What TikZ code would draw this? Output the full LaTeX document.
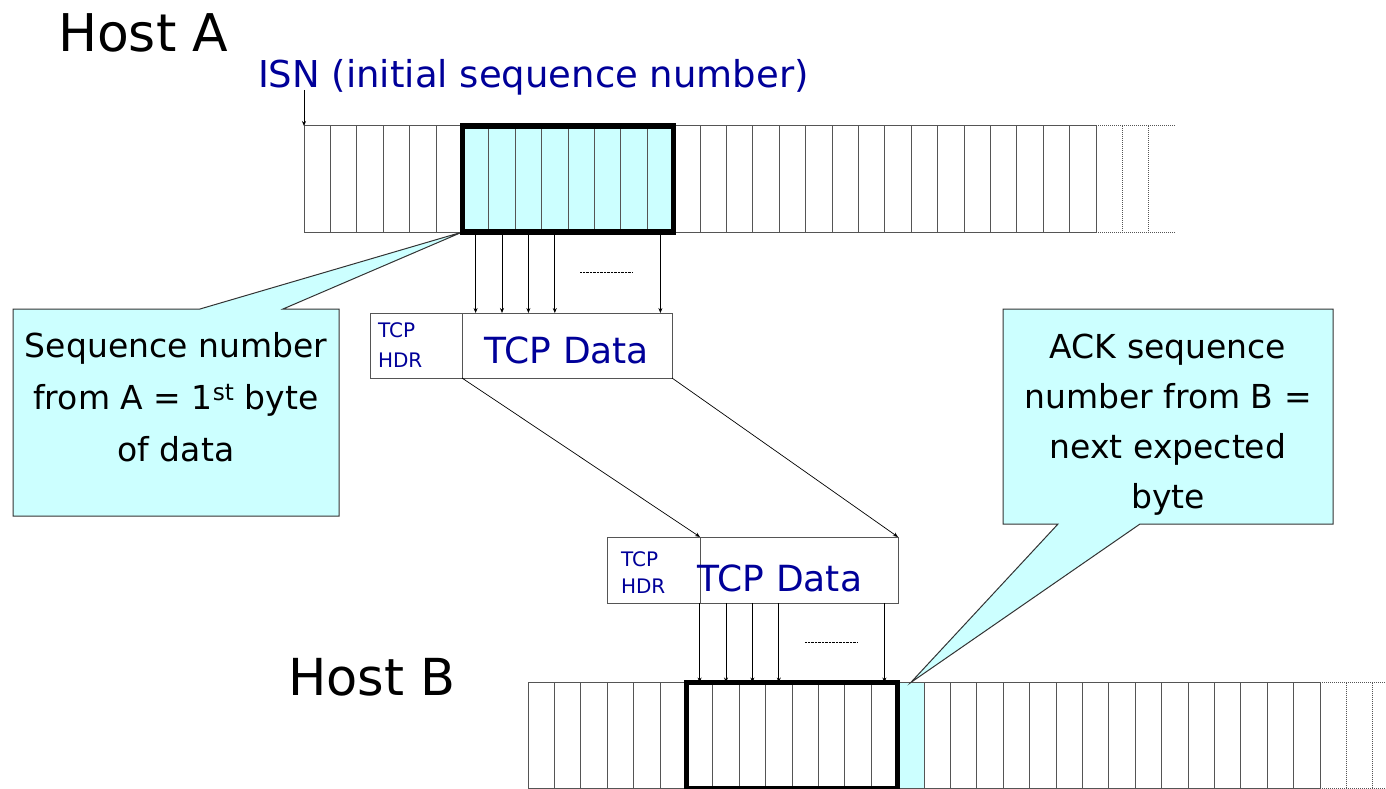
\documentclass[tikz,border=0pt]{standalone}
\usepackage{fontspec}
\setmainfont{DejaVu Sans}
\usetikzlibrary{arrows.meta}
\definecolor{seqblue}{RGB}{0,0,153}
\definecolor{seqcyan}{RGB}{204,255,255}
\definecolor{cellgray}{RGB}{85,85,85}
\begin{document}
\begin{tikzpicture}[x=1pt,y=-1pt,
  every node/.style={inner sep=0pt, outer sep=0pt},
  cell/.style={draw=cellgray, line width=1pt, minimum width=26.4pt, minimum height=106pt},
  pkt/.style={draw=cellgray, line width=1pt, fill=white},
  copy/.style={-{Stealth[length=5pt,width=4pt]}, line width=0.7pt},
  note/.style={fill=seqcyan, draw=black!80, line width=1pt},
  tail/.style={draw=cellgray, line width=1pt, densely dotted}]
\useasboundingbox (0,0) rectangle (1386,789);
% host names
\node[anchor=base west, font=\fontsize{52}{60}\selectfont] (hostA) at (58,52) {Host A};
\node[anchor=base west, font=\fontsize{51}{60}\selectfont] (hostB) at (288,695) {Host B};
\node[anchor=base west, text=seqblue, font=\fontsize{37}{44}\selectfont] (isn) at (258,88) {ISN (initial sequence number)};
\coordinate (isnfoot) at (304,90);
% byte stream of host A
\foreach \i in {0,...,5,14,15,...,29}
  \node[cell] (a\i) at ({317.2+26.4*\i},179) {};
\foreach \i in {6,...,13}
  \node[cell, fill=seqcyan] (a\i) at ({317.2+26.4*\i},179) {};
\draw[tail] (a29.north east) -- ++(79.2,0) (a29.south east) -- ++(79.2,0);
\foreach \k in {1,2}
  \draw[tail] ([xshift=\k*26.4]a29.north east) -- ([xshift=\k*26.4]a29.south east);
\draw[copy] (isnfoot) -- (a0.north west);
% byte stream of host B
\foreach \i in {0,...,13,15,16,...,29}
  \node[cell] (b\i) at ({541.2+26.4*\i},735.5) {};
\node[cell, fill=seqcyan] (b14) at ({541.2+26.4*14},735.5) {};
\draw[tail] (b29.north east) -- ++(79.2,0) (b29.south east) -- ++(79.2,0);
\foreach \k in {1,2}
  \draw[tail] ([xshift=\k*26.4]b29.north east) -- ([xshift=\k*26.4]b29.south east);
% the callouts
\draw[note] (13,309) -- (200,309) -- (a6.south west) -- (283,309) -- (339,309) -- (339,516) -- (13,516) -- cycle;
\node[anchor=north, align=center, font=\fontsize{33}{52}\selectfont] (seqnote) at (176,332) {Sequence number\\from A = 1\textsuperscript{st} byte\\of data};
\draw[note] (1003,309) -- (1333,309) -- (1333,524) -- (1140,524) -- (b14.north) -- (1058,524) -- (1003,524) -- cycle;
\node[anchor=north, align=center, font=\fontsize{33}{50}\selectfont] (acknote) at (1168,334) {ACK sequence\\number from B =\\next expected\\byte};
% the sent and the received bytes
\draw[line width=5.5pt] (a6.north west) rectangle (a13.south east);
\draw[line width=5.5pt] (b6.north west) rectangle (b13.south east);
% the segment as sent
\node[pkt, minimum width=210pt, minimum height=65pt] (dataA) at (567,345.5) {};
\node[text=seqblue, font=\fontsize{36}{44}\selectfont] (dataAtxt) at ([yshift=-5]dataA.center) {TCP Data};
\node[pkt, minimum width=92pt, minimum height=65pt, anchor=east] (hdrA) at (dataA.west) {};
\node[anchor=west, align=left, text=seqblue, font=\fontsize{20}{30}\selectfont] (hdrAtxt) at ([xshift=8]hdrA.west) {TCP\\HDR};
% the segment as received
\node[pkt, minimum width=198pt, minimum height=66pt] (dataB) at (799,570) {};
\node[pkt, minimum width=93pt, minimum height=66pt, anchor=east] (hdrB) at (dataB.west) {};
\node[anchor=west, align=left, text=seqblue, font=\fontsize{20}{27}\selectfont] (hdrBtxt) at ([xshift=14,yshift=-3]hdrB.west) {TCP\\HDR};
\node[text=seqblue, font=\fontsize{36}{44}\selectfont] (dataBtxt) at ([xshift=-19,yshift=-8]dataB.center) {TCP Data};
% bytes into the segment and out of it
\foreach \i in {6,7,8,9,13}
  \draw[copy] (a\i.south) -- (a\i.south |- dataA.north);
\foreach \i in {6,7,8,9,13}
  \draw[copy] (b\i.center |- dataB.south) -- (b\i.north);
\draw[densely dotted] (580,272) -- (632,272);
\draw[densely dotted] (805,642) -- (858,642);
\draw[copy] (hdrA.south east) -- (hdrB.north east);
\draw[copy] (dataA.south east) -- (dataB.north east);
\end{tikzpicture}
\end{document}
